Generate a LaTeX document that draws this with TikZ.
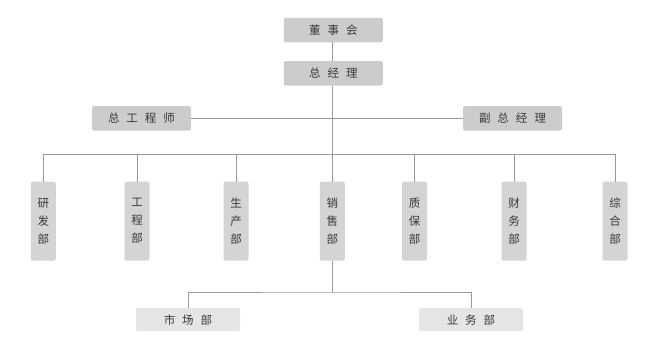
\documentclass[tikz,border=0pt]{standalone}
\usepackage{fontspec}
\setmainfont{Noto Sans CJK SC}
\begin{document}
\begin{tikzpicture}[x=1pt,y=-1pt,
  box/.style={rounded corners=2pt,inner sep=0pt,text=black!78,font=\fontsize{11.5}{18}\selectfont,align=center},
  topbox/.style={box,fill=black!20,minimum width=99pt,minimum height=24.5pt},
  deptbox/.style={box,fill=black!17,minimum width=25pt,minimum height=79pt},
  subbox/.style={box,fill=black!10,minimum width=104pt,minimum height=23pt},
  link/.style={draw=black!40,line width=1pt}]
\useasboundingbox (0,0) rectangle (662,356);
\newcommand{\gapsp}{\hspace{7pt}}
\node[topbox] (dsh) at (333.3,30) {董\gapsp 事\gapsp 会};
\node[topbox] (zjl) at (333.3,73.3) {总\gapsp 经\gapsp 理};
\node[topbox] (zgcs) at (141.5,118.3) {总\gapsp 工\gapsp 程\gapsp 师};
\node[topbox] (fzjl) at (512.5,118.3) {副\gapsp 总\gapsp 经\gapsp 理};
\node[deptbox] (yf) at (43.3,221.2) {研\\发\\部};
\node[deptbox] (gc) at (137,221.2) {工\\程\\部};
\node[deptbox] (sc) at (236,221.2) {生\\产\\部};
\node[deptbox] (xs) at (332.3,221.2) {销\\售\\部};
\node[deptbox] (zb) at (414.6,221.2) {质\\保\\部};
\node[deptbox] (cw) at (514,221.2) {财\\务\\部};
\node[deptbox] (zh) at (615,221.2) {综\\合\\部};
\node[subbox] (scb) at (188,319.7) {市\gapsp 场\gapsp 部};
\node[subbox] (ywb) at (471,319.7) {业\gapsp 务\gapsp 部};
\coordinate (bus) at (332.3,154.3);
\coordinate (mid) at (332.3,118.3);
\coordinate (sub) at (332.3,292);
\draw[link] (dsh.south -| bus) -- (zjl.north -| bus);
\draw[link] (zjl.south -| bus) -- (bus);
\draw[link] (zgcs) -- (mid) -- (fzjl);
\draw[link] (yf.north) |- (bus) -| (zh.north);
\foreach \n in {gc,sc,zb,cw}{
  \draw[link] (\n.north) -- (\n.north |- bus);
}
\draw[link] (bus) -- (xs.north);
\draw[link] (xs.south) -- (sub);
\draw[link] (scb.north) |- (sub) -| (ywb.north);
\end{tikzpicture}
\end{document}
